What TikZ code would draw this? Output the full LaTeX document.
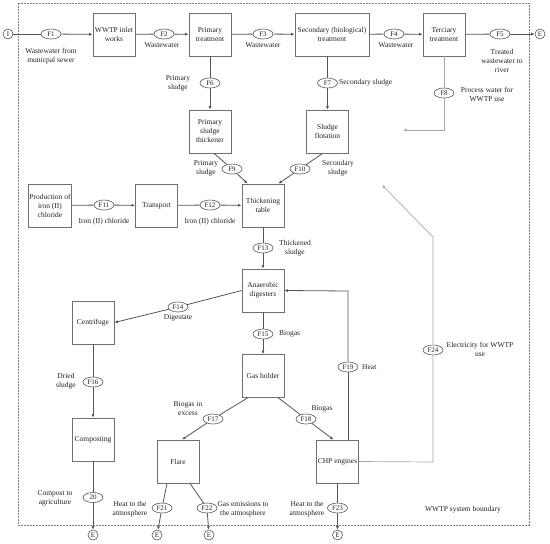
\documentclass[tikz,border=0pt]{standalone}
\usepackage{fontspec}
\setmainfont{Liberation Serif}
\usetikzlibrary{shapes.geometric,arrows.meta,calc}
\definecolor{boxc}{HTML}{707070}
\definecolor{linec}{HTML}{555555}
\definecolor{txtc}{HTML}{222222}
\definecolor{lightc}{HTML}{A8A8A8}
\begin{document}
\begin{tikzpicture}[x=1pt,y=-1pt,
  every node/.style={text=txtc,font=\fontsize{7.5}{9}\selectfont},
  proc/.style={draw=boxc,line width=0.8pt,minimum width=42pt,minimum height=43pt,align=center,inner sep=1pt},
  flow/.style={draw=linec,ellipse,fill=white,minimum width=20pt,minimum height=10pt,inner sep=0pt,line width=0.6pt,font=\fontsize{7}{8}\selectfont},
  term/.style={draw=linec,circle,minimum size=10pt,inner sep=0pt,line width=0.6pt,font=\fontsize{7}{8}\selectfont},
  lbl/.style={align=center,inner sep=0pt},
  conn/.style={draw=linec,line width=0.8pt},
  arr/.style={conn,-{Latex[length=3.5pt,width=3pt]}},
  larr/.style={draw=lightc,line width=0.7pt,-{Latex[length=3.5pt,width=3pt]}}
]
\useasboundingbox (0,0) rectangle (550,544);
% boundary
\draw[draw=gray,line width=0.6pt,dash pattern=on 1.6pt off 1.4pt] (18,3) rectangle (529,525);
\node[lbl] (bnd) at (463,510) {WWTP system boundary};

% top row
\node[term] (I) at (8,34) {I};
\node[proc] (inlet) at (114,34.5) {WWTP inlet\\works};
\node[proc] (prim) at (210,34.5) {Primary\\treatment};
\node[proc,minimum width=74pt] (sec) at (332,34.5) {Secondary (biological)\\treatment};
\node[proc] (ter) at (444,34.5) {Terciary\\treatment};
\node[term] (Er) at (540,34) {E};

\node[flow] (F1) at (51,34) {F1};
\node[flow] (F2) at (164,34) {F2};
\node[flow] (F3) at (263,34) {F3};
\node[flow] (F4) at (394,34) {F4};
\node[flow] (F5) at (500,34) {F5};
\node[lbl] (l1) at (51,56.5) {Wastewater from\\municpal sewer};
\node[lbl] (l2) at (162,45) {Wastewater};
\node[lbl] (l3) at (263,45) {Wastewater};
\node[lbl] (l4) at (396,45) {Wastewater};
\node[lbl] (l5) at (502,61) {Treated\\wastewater to\\river};

\draw[conn] (I) -- (F1); \draw[arr] (F1) -- (inlet);
\draw[conn] (inlet) -- (F2); \draw[arr] (F2) -- (prim);
\draw[conn] (prim) -- (F3); \draw[arr] (F3) -- (sec);
\draw[conn] (sec) -- (F4); \draw[arr] (F4) -- (ter);
\draw[conn] (ter) -- (F5); \draw[arr] (F5) -- (Er);

% sludge line
\node[proc] (pst) at (210,131.5) {Primary\\sludge\\thickener};
\node[proc] (flot) at (327.5,131.5) {Sludge\\flotation};
\node[flow] (F6) at (210,83) {F6};
\node[flow] (F7) at (327.5,83) {F7};
\node[lbl] (l6) at (178,83.5) {Primary\\sludge};
\node[lbl,anchor=west] (l7) at (339,83) {Secondary sludge};
\draw[conn] (prim) -- (F6); \draw[arr] (F6) -- (pst);
\draw[conn] (sec.south -| F7) -- (F7); \draw[arr] (F7) -- (flot);

% F8
\node[flow] (F8) at (444,93) {F8};
\node[lbl] (l8) at (487,94.5) {Process water for\\WWTP use};
\coordinate (c8a) at (444,130);
\coordinate (c8b) at (403,130);
\draw[draw=lightc,line width=0.7pt] (ter) -- (F8);
\draw[larr] (F8) -- (c8a) -- (c8b);

% thickening
\node[proc] (thick) at (263,205.5) {Thickening\\table};
\node[flow] (F9) at (232,169) {F9};
\node[flow] (F10) at (300,169) {F10};
\node[lbl] (l9) at (206,168.5) {Primary\\sludge};
\node[lbl] (l10) at (338,168.5) {Secondary\\sludge};
\coordinate (c9) at ($(pst.south)+(4,0)$);
\coordinate (c10) at ($(flot.south)+(-5,0)$);
\draw[conn] (c9) -- (F9); \draw[arr] (F9) -- ($(thick.north west)+(6,0)$);
\draw[conn] (c10) -- (F10); \draw[arr] (F10) -- ($(thick.north east)+(-6,0)$);

% iron chloride
\node[proc] (fecl) at (50,205.5) {Production of\\iron (II)\\chloride};
\node[proc] (trans) at (156.5,205.5) {Transport};
\node[flow] (F11) at (104,205) {F11};
\node[flow] (F12) at (210,205) {F12};
\node[lbl] (l11) at (104,222) {Iron (II) chloride};
\node[lbl] (l12) at (210,222) {Iron (II) chloride};
\draw[conn] (fecl) -- (F11); \draw[arr] (F11) -- (trans);
\draw[conn] (trans) -- (F12); \draw[arr] (F12) -- (thick);

% digestion
\node[proc] (ad) at (263,290.5) {Anaerobic\\digesters};
\node[flow] (F13) at (263,248) {F13};
\node[lbl,anchor=west] (l13) at (279,248.5) {Thickened\\sludge};
\draw[conn] (thick) -- (F13); \draw[arr] (F13) -- (ad);

\node[proc] (cent) at (93,322.5) {Centrifuge};
\node[flow] (F14) at (178,307) {F14};
\node[lbl] (l14) at (178,317.5) {Digestate};
\draw[conn] (ad.west) -- (F14); \draw[arr] (F14) -- (cent.east);

\node[proc] (gh) at (263,376) {Gas holder};
\node[flow] (F15) at (263,334) {F15};
\node[lbl,anchor=west] (l15) at (279,334) {Biogas};
\draw[conn] (ad) -- (F15); \draw[arr] (F15) -- (gh);

% composting
\node[proc] (comp) at (93,439.5) {Composting};
\node[flow] (F16) at (93,382) {F16};
\node[lbl] (l16) at (66,381.5) {Dried\\sludge};
\draw[conn] (cent) -- (F16); \draw[arr] (F16) -- (comp);
\node[flow] (F20) at (93,497.5) {20};
\node[lbl] (l20) at (55,498) {Compost to\\agriculture};
\node[term] (E1) at (93,535) {E};
\draw[conn] (comp) -- (F20); \draw[arr] (F20) -- (E1);

% flare
\node[proc] (flare) at (178,461.5) {Flare};
\node[flow] (F17) at (213,419) {F17};
\node[lbl] (l17) at (188,408.5) {Biogas in\\excess};
\draw[conn] ($(gh.south west)+(6,0)$) -- (F17); \draw[arr] (F17) -- ($(flare.north)+(4,0)$);
\node[flow] (F21) at (162,508) {F21};
\node[flow] (F22) at (207,508) {F22};
\node[lbl] (l21) at (130,509.5) {Heat to the\\atmosphere};
\node[lbl] (l22) at (243,509.5) {Gas emissions to\\the atmosphere};
\node[term] (E2) at (157,535) {E};
\node[term] (E3) at (209,535) {E};
\draw[conn] ($(flare.south)+(-11,0)$) -- (F21); \draw[arr] (F21) -- (E2);
\draw[conn] ($(flare.south)+(12,0)$) -- (F22); \draw[arr] (F22) -- (E3);

% CHP
\node[proc] (chp) at (337.5,461.5) {CHP engines};
\node[flow] (F18) at (306,419) {F18};
\node[lbl] (l18) at (322,409) {Biogas};
\draw[conn] ($(gh.south east)+(-6,0)$) -- (F18); \draw[arr] (F18) -- ($(chp.north)+(-4,0)$);
\node[flow] (F23) at (337.5,508) {F23};
\node[lbl] (l23) at (307,509.5) {Heat to the\\atmosphere};
\node[term] (E4) at (337.5,535) {E};
\draw[conn] (chp) -- (F23); \draw[arr] (F23) -- (E4);

% heat
\node[flow] (F19) at (348,367) {F19};
\node[lbl,anchor=west] (l19) at (362,367) {Heat};
\coordinate (c19) at (348,291);
\draw[conn] (chp.north -| F19) -- (F19);
\draw[arr] (F19) -- (c19) -- (ad.east);

% electricity
\node[flow] (F24) at (433,350) {F24};
\node[lbl] (l24) at (480,349.5) {Electricity for WWTP\\use};
\coordinate (c24a) at (433,462);
\coordinate (c24b) at (433,237);
\coordinate (c24c) at (382,185);
\draw[draw=lightc,line width=0.7pt] (chp.east) -- (c24a) -- (F24);
\draw[larr] (F24) -- (c24b) -- (c24c);
\end{tikzpicture}
\end{document}
